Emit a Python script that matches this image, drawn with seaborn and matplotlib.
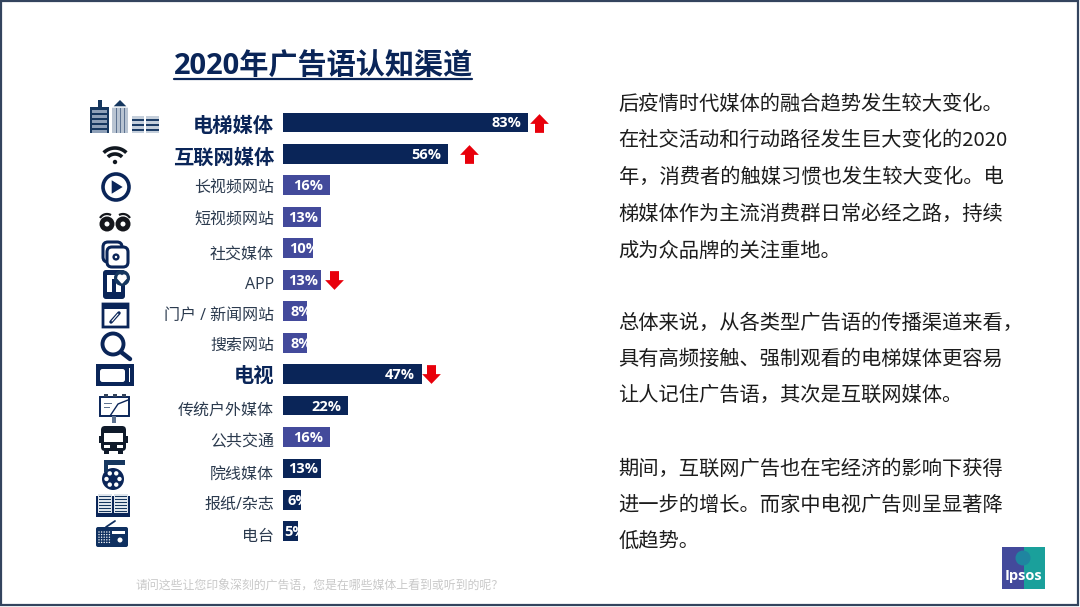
import numpy as np
import pandas as pd
import seaborn as sns
import matplotlib.pyplot as plt
from matplotlib.path import Path
from matplotlib.patches import Circle, Rectangle, FancyBboxPatch, Polygon
from matplotlib.transforms import ScaledTranslation

# ── Data ───────────────────────────────────────────────────────────────────────

categories = ["电梯媒体", "互联网媒体", "长视频网站", "短视频网站", "社交媒体", "APP",
              "门户 / 新闻网站", "搜索网站", "电视", "传统户外媒体", "公共交通",
              "院线媒体", "报纸/杂志", "电台"]
values = [83, 56, 16, 13, 10, 13, 8, 8, 47, 22, 16, 13, 6, 5]
groups = ["main", "main", "sub", "sub", "sub", "sub", "sub", "sub",
          "main", "main", "sub", "main", "main", "main"]
bold_labels = ["电梯媒体", "互联网媒体", "电视"]
trends = {"电梯媒体": "up", "互联网媒体": "up", "APP": "down", "电视": "down"}

title = "2020年广告语认知渠道"
footnote = "请问这些让您印象深刻的广告语，您是在哪些媒体上看到或听到的呢？"
body_lines = [
    "后疫情时代媒体的融合趋势发生较大变化。",
    "在社交活动和行动路径发生巨大变化的2020",
    "年，消费者的触媒习惯也发生较大变化。电",
    "梯媒体作为主流消费群日常必经之路，持续",
    "成为众品牌的关注重地。",
    "总体来说，从各类型广告语的传播渠道来看，",
    "具有高频接触、强制观看的电梯媒体更容易",
    "让人记住广告语，其次是互联网媒体。",
    "期间，互联网广告也在宅经济的影响下获得",
    "进一步的增长。而家中电视广告则呈显著降",
    "低趋势。",
]
body_y = [104, 140, 177, 214, 251, 323, 359, 395, 469, 505, 542]

# ── Style ──────────────────────────────────────────────────────────────────────

NAVY = "#0a2558"
BLUE = "#434a9b"
RED = "#e8000b"
TEXT = "#2b3a4e"
W, H = 1080, 607
PX_PER_PCT = 2.952
# label end relative to the bar end, px (short bars overflow and get cut off)
label_shift = [-7, -7, -7, -3, 7, -3, 5, 5, -7, -7, -7, -3, 8, 8]
arrow_gap = {"电梯媒体": 11, "互联网媒体": 21, "APP": 13, "电视": 9}
# the row labels sit a little below their bars in the slide, px
label_drop = [1.5, 2, 1, 2, 4, 3, 3, 1, 0, 3, 3, 4, 3, 4]

sns.set_theme(style="white")
plt.rcParams["font.family"] = ["Open Sans", "Noto Sans CJK SC", "DejaVu Sans"]

fig = plt.figure(figsize=(W / 100, H / 100), dpi=100, facecolor="white")

# full-figure layer in pixel coordinates, for slide furniture
bg = fig.add_axes([0, 0, 1, 1])
bg.set_xlim(0, W)
bg.set_ylim(H, 0)
bg.axis("off")


def arc(cx, cy, r, t0, t1, color=NAVY, lw=2.5):
    t = np.radians(np.linspace(t0, t1, 30))
    bg.plot(cx + r * np.cos(t), cy - r * np.sin(t), color=color, lw=lw,
            solid_capstyle="butt")


def rect(x0, y0, x1, y1, color=NAVY, **kw):
    bg.add_patch(Rectangle((x0, y0), x1 - x0, y1 - y0, facecolor=color, lw=0, **kw))


def outline(x0, y0, x1, y1, lw=2, rad=0, fc="white"):
    bg.add_patch(FancyBboxPatch((x0, y0), x1 - x0, y1 - y0,
                                boxstyle=f"round,pad=0,rounding_size={rad}",
                                fc=fc, ec=NAVY, lw=lw))


def circle(cx, cy, r, fc=NAVY, ec="none", lw=0):
    bg.add_patch(Circle((cx, cy), r, fc=fc, ec=ec, lw=lw))


def draw_icons():
    # buildings
    rect(90, 107, 109, 133, "#16375f")
    rect(98, 100, 102, 107, "#16375f")
    for y in range(110, 131, 5):
        rect(92, y, 107, y + 2.5, "#8ea0b8")
    rect(112, 107, 128, 133, "#b9c4d2")
    bg.add_patch(Polygon([(112, 107), (120, 99), (128, 107)], fc="#16375f"))
    for x in (116, 120, 124):
        rect(x, 108, x + 1, 133, "#5e7391")
    for x0, x1 in ((132, 144), (146, 159)):
        rect(x0, 116, x1, 133, "#c5cfdb")
        for y in (119, 124, 129):
            rect(x0, y, x1, y + 2, "#1d3d66")
    # wifi
    arc(115, 164, 16, 45, 135, "#111820", 2.6)
    arc(115, 164, 10, 45, 135, "#111820", 2.6)
    circle(115, 162, 2.2, "#111820")
    # play
    circle(116, 187, 13, "white", NAVY, 2.6)
    bg.add_patch(Polygon([(111, 179), (111, 195), (124, 187)], fc=NAVY))
    # glasses
    for cx in (107, 123):
        circle(cx, 224, 7.5, "#15171c")
        circle(cx, 224, 2.5, "white")
    arc(107, 222, 8, 60, 150, "#15171c", 1.6)
    arc(123, 222, 8, 30, 120, "#15171c", 1.6)
    # social / gear
    outline(103, 242, 122, 262, 2.2, 5)
    outline(107, 247, 128, 267, 2.2, 5)
    circle(116, 257, 3.6, NAVY)
    circle(116, 257, 1.2, "white")
    # phone + heart
    outline(103, 270, 125, 299, 0, 3, NAVY)
    rect(107, 275, 121, 292, "white")
    rect(112, 279, 116, 292, NAVY)
    circle(122, 278, 8, "#16375f")
    circle(120, 277, 2.6, "white")
    circle(124, 277, 2.6, "white")
    bg.add_patch(Polygon([(117.6, 278), (126.4, 278), (122, 283)], fc="white"))
    # browser
    outline(103, 304, 128, 327, 2)
    rect(102, 303, 129, 309)
    bg.plot([111, 119], [322, 313], color=NAVY, lw=2.5, solid_capstyle="round")
    bg.plot([112, 118], [321, 314], color="white", lw=0.8)
    # magnifier
    circle(113, 344, 10.5, "white", NAVY, 2.8)
    bg.plot([121, 130], [352, 359], color=NAVY, lw=3.2)
    # tv
    rect(96, 364, 134, 386)
    outline(100, 369, 125, 382, 0, 2.5)
    rect(129, 368, 130, 382, "white")
    # billboard
    outline(100, 397, 129, 416, 1.4, 0)
    for x in (104, 113, 122):
        rect(x, 394, x + 4, 397, "#33435a")
    bg.plot([110, 118, 128], [416, 404, 400], color=NAVY, lw=1)
    rect(104, 403, 112, 404, "#5e7391")
    rect(104, 407, 110, 408, "#5e7391")
    rect(112, 416, 116, 423, "#5e7391")
    # bus
    outline(101, 426, 126, 451, 0, 4, "#0f1a2a")
    rect(104, 433, 123, 442, "white")
    rect(104, 445, 110, 448, "white")
    rect(117, 445, 123, 448, "white")
    rect(99, 436, 101, 443, "#0f1a2a")
    rect(126, 436, 128, 443, "#0f1a2a")
    rect(104, 451, 109, 454, "#0f1a2a")
    rect(118, 451, 123, 454, "#0f1a2a")
    # film reel
    circle(113, 479, 11)
    rect(104, 460, 125, 465, "#16375f")
    rect(104, 460, 108, 472, "#16375f")
    for a in np.radians(np.arange(0, 360, 60)):
        circle(113 + 6.5 * np.cos(a), 479 + 6.5 * np.sin(a), 2.2, "white")
    # book
    rect(96, 496, 130, 517)
    rect(98, 494, 112, 513, "#dfe5ec")
    rect(114, 494, 128, 513, "#dfe5ec")
    for y in range(496, 513, 3):
        rect(99, y, 111, y + 1.4, "#16375f")
        rect(115, y, 127, y + 1.4, "#16375f")
    # radio
    outline(96, 527, 128, 547, 0, 2, "#0f3060")
    bg.plot([106, 115], [527, 521], color="#0f3060", lw=1.3)
    for x in np.arange(99, 110, 2.6):
        for y in np.arange(532, 544, 2.6):
            circle(x, y, 0.7, "white")
    rect(112, 531, 125, 534, "white")
    circle(120, 540, 2.5, "white")


draw_icons()

# title with its rule
bg.text(174, 66, title, fontsize=21, fontweight="bold", color=NAVY,
        ha="left", va="center")
bg.plot([174, 472], [79, 79], color=NAVY, lw=1.6)

# right-hand commentary
for line, y in zip(body_lines, body_y):
    bg.text(618.5, y, line, fontsize=14.6, color="#1c1c1c", ha="left", va="center",
            family=["Noto Sans CJK SC", "Open Sans"])

bg.text(136, 586, footnote, fontsize=8.6, color="#c9c9c9", ha="left", va="center",
        family=["Noto Sans CJK SC", "Open Sans"])

# slide frame
bg.add_patch(Rectangle((1, 1), W - 3, H - 3, fill=False, ec="#33445e", lw=1.6))

# Ipsos logo
rect(1002, 547, 1024, 589, BLUE)
rect(1024, 547, 1045, 589, "#1aa09b")
circle(1023, 558, 7.5, "#1f85a0")
bg.text(1023.5, 576, "Ipsos", color="white", fontsize=10.5, fontweight="bold",
        ha="center", va="center")

# ── Chart ──────────────────────────────────────────────────────────────────────

df = pd.DataFrame({"category": categories, "value": values, "group": groups})

top, step = 122.5, 31.45
ax_top = top - step / 2
ax_h = step * len(categories)
ax_w = 100 * PX_PER_PCT
ax = fig.add_axes([283 / W, 1 - (ax_top + ax_h) / H, ax_w / W, ax_h / H])
ax.patch.set_alpha(0)

sns.barplot(data=df, y="category", x="value", hue="group", dodge=False,
            palette={"main": NAVY, "sub": BLUE}, width=0.63, legend=False,
            saturation=1, linewidth=0, ax=ax)
ax.set_xlim(0, 100)
ax.set_ylim(len(categories) - 0.5, -0.5)
ax.set_xlabel("")
ax.set_ylabel("")
ax.set_xticks([])
sns.despine(ax=ax, left=True, bottom=True)
ax.tick_params(axis="y", length=0, pad=6.5)

for tick, drop in zip(ax.get_yticklabels(), label_drop):
    is_bold = tick.get_text() in bold_labels
    tick.set_fontsize(14.6 if is_bold else 11.5)
    tick.set_fontweight("bold" if is_bold else "normal")
    tick.set_color(NAVY if is_bold else TEXT)
    tick.set_transform(tick.get_transform()
                       + ScaledTranslation(0, -drop / 100, fig.dpi_scale_trans))

for i, (cat, val) in enumerate(zip(categories, values)):
    ax.annotate(f"{val}%", (val, i), xytext=(label_shift[i] * 0.72, -0.7),
                textcoords="offset points", ha="right", va="center",
                color="white", fontsize=10.5, fontweight="bold")
    if cat in trends:
        # block arrow, pointing up or down
        sign = 1 if trends[cat] == "up" else -1
        verts = [(-0.5, -0.02 * sign), (0, 0.5 * sign), (0.5, -0.02 * sign),
                 (0.24, -0.02 * sign), (0.24, -0.5 * sign), (-0.24, -0.5 * sign),
                 (-0.24, -0.02 * sign), (-0.5, -0.02 * sign)]
        ax.plot(val + arrow_gap[cat] / PX_PER_PCT, i, marker=Path(verts), ms=13.5,
                color=RED, mew=0, clip_on=False, ls="none")

fig.savefig("out.png", dpi=100, facecolor="white")
